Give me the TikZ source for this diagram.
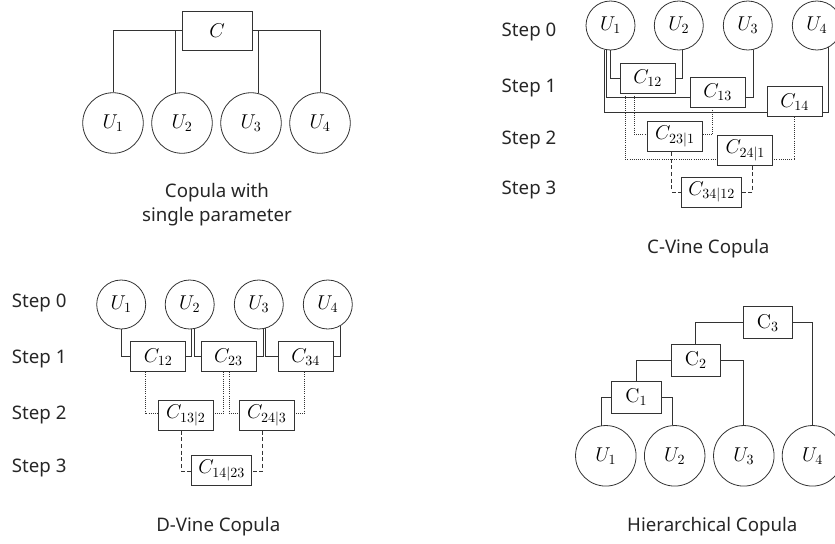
\documentclass[tikz,border=0pt]{standalone}
\usepackage{fix-cm}
\usepackage[no-math]{fontspec}
\setmainfont{Noto Sans}
\usetikzlibrary{calc}

\begin{document}
\begin{tikzpicture}[
  x=0.75pt,y=-0.75pt,
  font=\fontsize{14}{18}\selectfont,
  con/.style={draw=black!80,line width=0.6pt},
  dot/.style={con,densely dotted},
  dsh/.style={con,dash pattern=on 3pt off 2pt},
  var/.style={con,circle,inner sep=0pt,minimum size=36.75pt,font=\fontsize{15}{18}\selectfont},
  bigvar/.style={var,minimum size=45.4pt},
  cop/.style={con,rectangle,inner sep=0pt,minimum width=41.25pt,minimum height=22.5pt,font=\fontsize{15}{18}\selectfont},
  wide/.style={minimum width=45pt},
  hcop/.style={cop,minimum width=37pt,minimum height=24pt},
  stepname/.style={text=black!85},
  caption/.style={text=black!85,align=center},
]
\useasboundingbox (0,0) rectangle (835,543);

% copula with single parameter
\node[cop,minimum width=52.5pt,minimum height=29.25pt] (sC) at (217,30.5) {$C$};
\foreach \i/\x in {1/113,2/182,3/251,4/320}
  \node[bigvar] (sU\i) at (\x,123) {$U_\i$};
\draw[con] (sU1.north) |- (sC.west);
\draw[con] (sU2.102) |- (sC.west);
\draw[con] (sU3.76) |- (sC.east);
\draw[con] (sU4.north) |- (sC.east);
\node[caption] (sT) at (217,205) {Copula with\\single parameter};

% C-vine
\foreach \s/\y in {0/31.7,1/88.3,2/140,3/190}
  \node[stepname] (cS\s) at (529,\y) {Step \s};
\foreach \i/\x in {1/610.5,2/678.8,3/747.8,4/816.8}
  \node[var] (cU\i) at (\x,25.5) {$U_\i$};
\node[cop] (cC12) at (647.8,78) {$C_{12}$};
\node[cop] (cC13) at (717.8,92) {$C_{13}$};
\node[cop] (cC14) at (794.8,101.7) {$C_{14}$};
\node[cop] (cC231) at (675,136.7) {$C_{23|1}$};
\node[cop] (cC241) at (745.3,150.3) {$C_{24|1}$};
\node[cop,wide] (cC3412) at (711.7,192) {$C_{34|12}$};
\draw[con] (cU1.-90) |- (cC12.west);
\draw[con] (cU2.-82) |- (cC12.east);
\draw[con] (cU1.-99) |- ($(cC13.west)+(0,5.3)$);
\draw[con] (cU3.-78.5) |- ($(cC13.east)+(0,5.3)$);
\draw[con] (cU1.-105.4) |- ($(cC14.west)+(0,11)$);
\draw[con] (cU4.-62) |- ($(cC14.east)+(0,11)$);
\draw[dot] ($(cC12.south)+(-13.5,0)$) |- ($(cC231.west)+(0,-2.4)$);
\draw[dot] ($(cC13.south)+(-5,0)$) |- ($(cC231.east)+(0,-2.4)$);
\draw[dot] ($(cC12.south)+(-22.8,0)$) |- ($(cC241.west)+(0,9)$);
\draw[dot] (cC14.south) |- ($(cC241.east)+(0,9)$);
\draw[dsh] ($(cC231.south)+(-3.3,0)$) |- (cC3412.west);
\draw[dsh] ($(cC241.south)+(7.4,0)$) |- (cC3412.east);
\node[caption] (cT) at (708.3,248.3) {C-Vine Copula};

% D-vine
\foreach \s/\y in {0/303.3,1/359.3,2/415,3/468.3}
  \node[stepname] (dS\s) at (39.2,\y) {Step \s};
\foreach \i/\x in {1/121.2,2/189.7,3/258.8,4/327.8}
  \node[var] (dU\i) at (\x,304.5) {$U_\i$};
\node[cop] (dC12) at (158.3,356.7) {$C_{12}$};
\node[cop] (dC23) at (228.5,356.7) {$C_{23}$};
\node[cop] (dC34) at (305.8,356.7) {$C_{34}$};
\node[cop] (dC132) at (185.8,415.2) {$C_{13|2}$};
\node[cop] (dC243) at (266.8,415.2) {$C_{24|3}$};
\node[cop,wide] (dC1423) at (221.7,470.5) {$C_{14|23}$};
\draw[con] (dU1.south) |- (dC12.west);
\draw[con] (dU2.-85.3) |- (dC12.east);
\draw[con] (dU2.-79.2) |- (dC23.west);
\draw[con] (dU3.-80.8) |- (dC23.east);
\draw[con] (dU3.-74.6) |- (dC34.west);
\draw[con] (dU4.-60.7) |- (dC34.east);
\draw[dot] ($(dC12.south)+(-13.3,0)$) |- ($(dC132.west)+(0,-1.9)$);
\draw[dot] ($(dC23.south)+(-5.2,0)$) |- ($(dC132.east)+(0,-1.9)$);
\draw[dot] ($(dC23.south)+(0.8,0)$) |- ($(dC243.west)+(0,-1.9)$);
\draw[dot] ($(dC34.south)+(-1.5,0)$) |- ($(dC243.east)+(0,-1.9)$);
\draw[dsh] ($(dC132.south)+(-4.2,0)$) |- ($(dC1423.west)+(0,1.2)$);
\draw[dsh] ($(dC243.south)+(-4.5,0)$) |- ($(dC1423.east)+(0,1.2)$);
\node[caption] (dT) at (218.3,526.7) {D-Vine Copula};

% hierarchical
\foreach \i/\x in {1/605.8,2/674.7,3/743.8,4/812.5}
  \node[bigvar] (hU\i) at (\x,455.8) {$U_\i$};
\node[hcop] (hC1) at (636.3,397.2) {$\mathrm{C}_1$};
\node[hcop] (hC2) at (695.8,360) {$\mathrm{C}_2$};
\node[hcop] (hC3) at (767.8,322.8) {$\mathrm{C}_3$};
\draw[con] (hU1.99.7) |- (hC1.west);
\draw[con] (hU2.95.7) |- (hC1.east);
\draw[con] (hC1.north) |- (hC2.west);
\draw[con] (hU3.north) |- (hC2.east);
\draw[con] (hC2.north) |- (hC3.west);
\draw[con] (hU4.north) |- (hC3.east);
\node[caption] (hT) at (712.3,526.7) {Hierarchical Copula};
\end{tikzpicture}
\end{document}
